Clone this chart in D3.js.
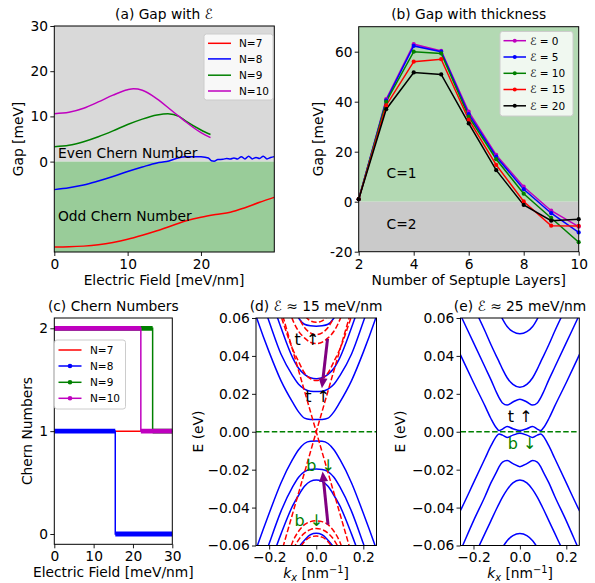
<!DOCTYPE html>
<html><head><meta charset="utf-8">
<script src="https://cdn.jsdelivr.net/npm/d3@7"></script>
<style>body{margin:0;background:#fff} svg text{font-family:"DejaVu Sans",sans-serif}</style>
</head><body><svg id="c" width="595" height="583"></svg>
<script>
// ---------------- DATA ----------------
// (a) Gap vs electric field
const aN7x = [0,2,4,6,8,10,12,14,16,18,20,22,24,26,28,30];
const aN7y = [-18.9,-18.85,-18.7,-18.4,-17.9,-17.2,-16.3,-15.3,-14.2,-13.1,-12.3,-11.7,-11.2,-10.2,-9.0,-7.9];
const aN8x = [0,2,4,6,8,10,12,14,15.3,17,18,19,20,21,21.4,21.8,22.3,23,23.5,24,24.5,25,25.5,26,26.5,27,27.5,28,28.5,29,29.5,30];
const aN8y = [-6.2,-5.8,-5.2,-4.3,-3.3,-2.2,-1.2,-0.3,0,0.85,1.05,1.1,1.05,0.8,0.2,0.1,0.45,0.5,0.7,0.6,0.8,0.6,1.1,0.6,1.2,0.6,0.9,0.7,1.2,0.6,0.9,1.1];
const aN9x = [0,2,4,6,8,10,12,14,15.5,17,18,20,21.3];
const aN9y = [3.3,3.6,4.4,5.5,6.8,8.2,9.4,10.3,10.6,10.0,8.9,7.0,6.0];
const aN10x = [0,2,4,6,8,10,10.8,12,14,16,17,18,20,21.3];
const aN10y = [10.6,10.9,11.8,13.2,14.7,15.9,16.1,15.8,13.9,11.3,10.0,8.7,6.4,5.3];
const aXTicks = [0,10,20];
const aYTicks = [0,10,20,30];
const aLegend = ["N=7","N=8","N=9","N=10"];

// (b) Gap vs thickness
const layers = [2,3,4,5,6,7,8,9,10];
const gapF0  = [1,41,63,60.3,36,18.7,6,-3.6,-10];
const gapF5  = [1,40.5,62.3,60,35,18,5,-4.6,-12.3];
const gapF10 = [1,40,60,59.3,34,17,3.2,-6.5,-16.2];
const gapF15 = [1,38.5,56,57,32.8,14.7,0.1,-9.6,-9.7];
const gapF20 = [1,37,51.7,50.9,31.3,12.6,-1.3,-7.6,-7];
const bXTicks = [2,4,6,8,10];
const bYTicks = [-20,0,20,40,60];
const bLegend = ["ℰ = 0","ℰ = 5","ℰ = 10","ℰ = 15","ℰ = 20"];

// (c) Chern numbers (field, C)
const chernN7  = [[0,1],[30,1]];
const chernN8  = [[0,1],[15.5,1],[15.5,0],[30,0]];
const chernN9  = [[0,2],[25,2],[25,1],[30,1]];
const chernN10 = [[0,2],[22,2],[22,1],[30,1]];
const cXTicks = [0,10,20,30];
const cYTicks = [0,1,2];

// (d) bands at ~15 meV/nm  (k grid shared)
const kD = [-0.3,-0.25,-0.2,-0.15,-0.1,-0.075,-0.05,-0.025,0,0.025,0.05,0.075,0.1,0.15,0.2,0.25,0.3];
const dCondA = [0.078,0.059,0.042,0.027,0.0155,0.0105,0.0072,0.0065,0.0064,0.0065,0.0072,0.0105,0.0155,0.027,0.042,0.059,0.078];
const dCondB = [0.094,0.076,0.058,0.041,0.0295,0.025,0.0225,0.0214,0.0212,0.0214,0.0225,0.025,0.0295,0.041,0.058,0.076,0.094];
const dCondC = [0.11,0.092,0.073,0.055,0.039,0.0335,0.0303,0.0285,0.028,0.0285,0.0303,0.0335,0.039,0.055,0.073,0.092,0.11];
const dCondD = [0.125,0.11,0.095,0.08,0.066,0.06,0.0567,0.0559,0.0557,0.0559,0.0567,0.06,0.066,0.08,0.095,0.11,0.125];
const dValA = [-0.078,-0.06,-0.043,-0.027,-0.0145,-0.0095,-0.0062,-0.005,-0.0049,-0.005,-0.0062,-0.0095,-0.0145,-0.027,-0.043,-0.06,-0.078];
const dValB = [-0.095,-0.077,-0.059,-0.042,-0.029,-0.024,-0.021,-0.0199,-0.0197,-0.0199,-0.021,-0.024,-0.029,-0.042,-0.059,-0.077,-0.095];
const dValC = [-0.107,-0.089,-0.071,-0.054,-0.039,-0.0335,-0.0288,-0.0262,-0.0255,-0.0262,-0.0288,-0.0335,-0.039,-0.054,-0.071,-0.089,-0.107];
const dValD = [-0.125,-0.11,-0.095,-0.08,-0.0665,-0.061,-0.0572,-0.0543,-0.0536,-0.0543,-0.0572,-0.061,-0.0665,-0.08,-0.095,-0.11,-0.125];
const dRedC1 = [0.115,0.097,0.079,0.061,0.0435,0.037,0.031,0.028,0.027,0.028,0.031,0.037,0.0435,0.061,0.079,0.097,0.115];
const dRedC2 = [0.14,0.12,0.1,0.08,0.059,0.053,0.0495,0.0472,0.0465,0.0472,0.0495,0.053,0.059,0.08,0.1,0.12,0.14];
const dRedC3 = [0.15,0.13,0.11,0.09,0.068,0.0605,0.055,0.0522,0.0512,0.0522,0.055,0.0605,0.068,0.09,0.11,0.13,0.15];
const dRedC4 = [0.16,0.14,0.12,0.1,0.075,0.067,0.0615,0.0585,0.0577,0.0585,0.0615,0.067,0.075,0.1,0.12,0.14,0.16];
const dRedV2 = [-0.14,-0.12,-0.1,-0.08,-0.058,-0.0525,-0.049,-0.0474,-0.047,-0.0474,-0.049,-0.0525,-0.058,-0.08,-0.1,-0.12,-0.14];
const dRedV3 = [-0.15,-0.13,-0.11,-0.09,-0.063,-0.057,-0.0535,-0.0516,-0.051,-0.0516,-0.0535,-0.057,-0.063,-0.09,-0.11,-0.13,-0.15];
const dRedV4 = [-0.16,-0.14,-0.12,-0.1,-0.069,-0.0625,-0.058,-0.0556,-0.055,-0.0556,-0.058,-0.0625,-0.069,-0.1,-0.12,-0.14,-0.16];
const kCross = [-0.3,0.3];
const dCrossUp = [-0.129,0.129];
const dCrossDown = [0.129,-0.129];
const dArrows = [{from:[0.048,0.049], to:[0.024,0.023]}, {from:[0.05,-0.049], to:[0.027,-0.021]}];
const dLabels = [{t:"t ↑",k:-0.092,E:0.046,c:"#000"},{t:"t ↑",k:-0.047,E:0.0157,c:"#000"},{t:"b ↓",k:-0.042,E:-0.0205,c:"#008000"},{t:"b ↓",k:-0.092,E:-0.0495,c:"#008000"}];

// (e) bands at ~25 meV/nm
const kE = [-0.3,-0.25,-0.2,-0.15,-0.125,-0.1,-0.09,-0.075,-0.055,-0.03,0,0.03,0.055,0.075,0.09,0.1,0.125,0.15,0.2,0.25,0.3];
const eCond1 = [0.052,0.039,0.026,0.0135,0.007,0.0018,0.0006,0.0014,0.0028,0.0016,0.0006,0.0016,0.0028,0.0014,0.0006,0.0018,0.007,0.0135,0.026,0.039,0.052];
const eCond2 = [0.073,0.06,0.047,0.034,0.0275,0.0205,0.018,0.0152,0.0141,0.0157,0.0172,0.0157,0.0141,0.0152,0.018,0.0205,0.0275,0.034,0.047,0.06,0.073];
const eCond3 = [0.092,0.079,0.066,0.053,0.046,0.0395,0.037,0.033,0.0285,0.025,0.0235,0.025,0.0285,0.033,0.037,0.0395,0.046,0.053,0.066,0.079,0.092];
const eCond4 = [0.14,0.12,0.1,0.078,0.0715,0.065,0.063,0.0595,0.0555,0.0528,0.0517,0.0528,0.0555,0.0595,0.063,0.065,0.0715,0.078,0.1,0.12,0.14];
const eVal1 = [-0.052,-0.04,-0.027,-0.014,-0.0075,-0.0022,-0.0012,-0.0018,-0.003,-0.0018,-0.0008,-0.0018,-0.003,-0.0018,-0.0012,-0.0022,-0.0075,-0.014,-0.027,-0.04,-0.052];
const eVal2 = [-0.075,-0.061,-0.047,-0.034,-0.027,-0.021,-0.0185,-0.016,-0.0152,-0.0168,-0.0184,-0.0168,-0.0152,-0.016,-0.0185,-0.021,-0.027,-0.034,-0.047,-0.061,-0.075];
const eVal3 = [-0.092,-0.079,-0.0665,-0.0535,-0.047,-0.0405,-0.038,-0.0345,-0.0305,-0.027,-0.0255,-0.027,-0.0305,-0.0345,-0.038,-0.0405,-0.047,-0.0535,-0.0665,-0.079,-0.092];
const eVal4 = [-0.14,-0.12,-0.1,-0.08,-0.072,-0.066,-0.064,-0.061,-0.0575,-0.0548,-0.0537,-0.0548,-0.0575,-0.061,-0.064,-0.066,-0.072,-0.08,-0.1,-0.12,-0.14];
const eLabels = [{t:"t ↑",k:-0.052,E:0.0053,c:"#000"},{t:"b ↓",k:-0.052,E:-0.0092,c:"#008000"}];
const bandYTicks = [-0.06,-0.04,-0.02,0,0.02,0.04,0.06];
const bandXTicks = [-0.2,0,0.2];

// ---------------- DRAW ----------------
const svg = d3.select("#c");
const FS = 13.8, LFS = 10.5, BFS = 16;
const C = {r:"#ff0000", b:"#0000ff", g:"#008000", m:"#bf00bf", k:"#000000", p:"#800080"};
const zip = (xs, ys) => xs.map((v,i)=>[v, ys[i]]);
let clipId = 0;

function makePanel(xs, ys) {
  const g = svg.append("g");
  const id = "clip" + (clipId++);
  svg.append("defs").append("clipPath").attr("id", id).append("rect")
    .attr("x", xs.range()[0]).attr("y", ys.range()[1])
    .attr("width", xs.range()[1]-xs.range()[0]).attr("height", ys.range()[0]-ys.range()[1]);
  const plot = g.append("g").attr("clip-path", `url(#${id})`);
  return {g, plot};
}
function drawAxes(g, xs, ys, xt, yt, xf, yf) {
  const ax = g.append("g").attr("transform", `translate(0,${ys.range()[0]})`)
    .call(d3.axisBottom(xs).tickValues(xt).tickSize(4).tickPadding(3.2).tickFormat(xf));
  const ay = g.append("g").attr("transform", `translate(${xs.range()[0]},0)`)
    .call(d3.axisLeft(ys).tickValues(yt).tickSize(4).tickPadding(2.2).tickFormat(yf));
  [ax, ay].forEach(a => {
    a.select(".domain").remove();
    a.selectAll("text").attr("font-size", FS).attr("font-family", "DejaVu Sans").attr("fill", "#000");
    a.selectAll("line").attr("stroke", "#000").attr("stroke-width", 0.9);
  });
  g.append("rect").attr("x", xs.range()[0]).attr("y", ys.range()[1])
    .attr("width", xs.range()[1]-xs.range()[0]).attr("height", ys.range()[0]-ys.range()[1])
    .attr("fill", "none").attr("stroke", "#000").attr("stroke-width", 1);
}
function txt(g, x, y, s, opts = {}) {
  const t = g.append("text").attr("x", x).attr("y", y).text(s)
    .attr("font-size", opts.fs || FS).attr("fill", opts.c || "#000")
    .attr("text-anchor", opts.anchor || "start");
  if (opts.rot) t.attr("transform", `rotate(-90,${x},${y})`);
  return t;
}
function legend(g, box, rows, items, lx0, lx1, tx) {
  g.append("rect").attr("x", box[0]).attr("y", box[1]).attr("width", box[2]-box[0]).attr("height", box[3]-box[1])
    .attr("rx", 2.5).attr("fill", "#fff").attr("fill-opacity", 0.8).attr("stroke", "#cccccc").attr("stroke-width", 1);
  items.forEach((it, i) => {
    const yy = rows[i];
    g.append("line").attr("x1", lx0).attr("x2", lx1).attr("y1", yy).attr("y2", yy)
      .attr("stroke", it.color).attr("stroke-width", 1.5);
    if (it.marker) g.append("circle").attr("cx", (lx0+lx1)/2).attr("cy", yy).attr("r", it.marker).attr("fill", it.color);
    txt(g, tx, yy + 3.8, it.label, {fs: LFS});
  });
}
const lineGen = (xs, ys, curve) => d3.line().x(d => xs(d[0])).y(d => ys(d[1])).curve(curve || d3.curveLinear);

// ===== (a) =====
{
  const x = d3.scaleLinear([0,30],[54.3,274.3]);
  const y = d3.scaleLinear([-20,30],[252,26]);
  const {g, plot} = makePanel(x, y);
  plot.append("rect").attr("x", x(0)).attr("y", y(30)).attr("width", x(30)-x(0)).attr("height", y(0)-y(30)).attr("fill", "#d9d9d9");
  plot.append("rect").attr("x", x(0)).attr("y", y(0)).attr("width", x(30)-x(0)).attr("height", y(-20)-y(0)).attr("fill", "#99cc99");
  const series = [[aN7x,aN7y,C.r],[aN8x,aN8y,C.b],[aN9x,aN9y,C.g],[aN10x,aN10y,C.m]];
  series.forEach(([xs, ys, col]) => {
    plot.append("path").attr("d", lineGen(x, y, d3.curveMonotoneX)(zip(xs, ys)))
      .attr("fill", "none").attr("stroke", col).attr("stroke-width", 1.5);
  });
  txt(g, 58, 158, "Even Chern Number");
  txt(g, 58, 221, "Odd Chern Number");
  drawAxes(g, x, y, aXTicks, aYTicks, d3.format("d"), d3.format("d"));
  txt(g, 164, 18.5, "(a) Gap with ℰ", {anchor: "middle"});
  txt(g, 164, 285, "Electric Field [meV/nm]", {anchor: "middle"});
  txt(g, 23, 139, "Gap [meV]", {anchor: "middle", rot: true});
  legend(g, [204,34,273,100], [43.3,58.9,75.2,91],
    aLegend.map((l,i)=>({label:l, color:[C.r,C.b,C.g,C.m][i]})), 208, 231, 239);
}

// ===== (b) =====
{
  const x = d3.scaleLinear([2,10],[358.7,578.7]);
  const y = d3.scaleLinear([-20,70],[251.7,26.7]);
  const {g, plot} = makePanel(x, y);
  plot.append("rect").attr("x", x(2)).attr("y", y(70)).attr("width", x(10)-x(2)).attr("height", y(0)-y(70)).attr("fill", "#b3d9b3");
  plot.append("rect").attr("x", x(2)).attr("y", y(0)).attr("width", x(10)-x(2)).attr("height", y(-20)-y(0)).attr("fill", "#cacaca");
  const series = [[gapF0,C.m],[gapF5,C.b],[gapF10,C.g],[gapF15,C.r],[gapF20,C.k]];
  series.forEach(([vals, col]) => {
    const pts = zip(layers, vals);
    plot.append("path").attr("d", lineGen(x, y)(pts)).attr("fill", "none").attr("stroke", col).attr("stroke-width", 1.5);
    g.selectAll(null).data(pts).enter().append("circle")
      .attr("cx", d => x(d[0])).attr("cy", d => y(d[1])).attr("r", 2.1).attr("fill", col);
  });
  txt(g, 386.5, 178, "C=1");
  txt(g, 386.5, 229, "C=2");
  drawAxes(g, x, y, bXTicks, bYTicks, d3.format("d"), d => d < 0 ? "-" + Math.abs(d) : String(d));
  txt(g, 468.7, 18.5, "(b) Gap with thickness", {anchor: "middle"});
  txt(g, 468.7, 285, "Number of Septuple Layers]", {anchor: "middle"});
  txt(g, 323, 139, "Gap [meV]", {anchor: "middle", rot: true});
  legend(g, [500,31.5,573,116], [40.7,57,73.3,89.5,105.8],
    bLegend.map((l,i)=>({label:l, color:[C.m,C.b,C.g,C.r,C.k][i], marker:2})), 503.5, 526, 530);
}

// ===== (c) =====
{
  const x = d3.scaleLinear([0,30],[54.3,172.3]);
  const y = d3.scaleLinear([-0.1,2.1],[544.3,318]);
  const {g, plot} = makePanel(x, y);
  const series = [[chernN7,C.r,false],[chernN8,C.b,true],[chernN9,C.g,true],[chernN10,C.m,true]];
  series.forEach(([pts, col, thick]) => {
    plot.append("path").attr("d", lineGen(x, y)(pts)).attr("fill", "none").attr("stroke", col).attr("stroke-width", 1.5);
    if (thick) {
      for (let i = 0; i < pts.length-1; i++) {
        if (pts[i][1] === pts[i+1][1]) {
          plot.append("line").attr("x1", x(pts[i][0])).attr("x2", x(pts[i+1][0]))
            .attr("y1", y(pts[i][1])).attr("y2", y(pts[i+1][1]))
            .attr("stroke", col).attr("stroke-width", 4.8);
        }
      }
    }
  });
  drawAxes(g, x, y, cXTicks, cYTicks, d3.format("d"), d3.format("d"));
  txt(g, 113.3, 311, "(c) Chern Numbers", {anchor: "middle"});
  txt(g, 113.3, 577, "Electric Field [meV/nm]", {anchor: "middle"});
  txt(g, 32, 431, "Chern Numbers", {anchor: "middle", rot: true});
  legend(g, [54.5,340,125.5,409], [350,366,382.3,398.3],
    aLegend.map((l,i)=>({label:l, color:[C.r,C.b,C.g,C.m][i], marker: i===0?0:2.3})), 58.5, 81.5, 90);
}

// ===== band panels =====
function kLabel(g, cx, y) {
  const t = g.append("text").attr("x", cx).attr("y", y).attr("font-size", FS).attr("text-anchor", "middle");
  t.append("tspan").attr("font-style", "italic").text("k");
  t.append("tspan").attr("font-style", "italic").attr("font-size", 9.8).attr("dy", 3).text("x");
  t.append("tspan").attr("dy", -3).text(" [nm");
  t.append("tspan").attr("font-size", 9.8).attr("dy", -5).text("−1");
  t.append("tspan").attr("dy", 5).text("]");
}
const bandFmtY = d => d3.format(".2f")(d).replace("-", "−");
const bandFmtX = d => d3.format(".1f")(d).replace("-", "−");

function bandPanel(x, y, blue, red) {
  const {g, plot} = makePanel(x, y);
  const lg = lineGen(x, y, d3.curveMonotoneX);
  plot.append("line").attr("x1", x.range()[0]).attr("x2", x.range()[1]).attr("y1", y(0)).attr("y2", y(0))
    .attr("stroke", C.g).attr("stroke-width", 1.5).attr("stroke-dasharray", "5.5,2.4");
  blue.forEach(([ks, es]) => plot.append("path").attr("d", lg(zip(ks, es))).attr("fill", "none").attr("stroke", C.b).attr("stroke-width", 1.5));
  red.forEach(([ks, es]) => plot.append("path").attr("d", lg(zip(ks, es))).attr("fill", "none").attr("stroke", C.r).attr("stroke-width", 1.5).attr("stroke-dasharray", "5.5,2.4"));
  return {g, plot};
}

// ===== (d) =====
{
  const x = d3.scaleLinear([-0.256,0.256],[256,376.5]);
  const y = d3.scaleLinear([-0.06,0.06],[545.5,318]);
  const blue = [dCondA,dCondB,dCondC,dCondD,dValA,dValB,dValC,dValD].map(e => [kD, e]);
  const red = [[kCross,dCrossUp],[kCross,dCrossDown]].concat([dRedC1,dRedC2,dRedC3,dRedC4,dRedV2,dRedV3,dRedV4].map(e => [kD, e]));
  const {g, plot} = bandPanel(x, y, blue, red);
  dArrows.forEach(a => {
    const x1 = x(a.from[0]), y1 = y(a.from[1]), x2 = x(a.to[0]), y2 = y(a.to[1]);
    const ang = Math.atan2(y2-y1, x2-x1), hl = 10, hw = 4.5;
    const bx = x2 - hl*Math.cos(ang), by = y2 - hl*Math.sin(ang);
    plot.append("line").attr("x1", x1).attr("y1", y1).attr("x2", bx).attr("y2", by).attr("stroke", C.p).attr("stroke-width", 3);
    plot.append("path").attr("d", `M${x2},${y2}L${bx - hw*Math.sin(ang)},${by + hw*Math.cos(ang)}L${bx + hw*Math.sin(ang)},${by - hw*Math.cos(ang)}Z`).attr("fill", C.p);
  });
  dLabels.forEach(l => txt(g, x(l.k), y(l.E), l.t, {fs: BFS, c: l.c}));
  drawAxes(g, x, y, bandXTicks, bandYTicks, bandFmtX, bandFmtY);
  txt(g, 316, 311, "(d) ℰ ≈ 15 meV/nm", {anchor: "middle"});
  kLabel(g, 316, 578);
  txt(g, 203, 431.5, "E (eV)", {anchor: "middle", rot: true});
}

// ===== (e) =====
{
  const x = d3.scaleLinear([-0.256,0.256],[460.5,579.3]);
  const y = d3.scaleLinear([-0.06,0.06],[545.5,318]);
  const blue = [eCond1,eCond2,eCond3,eCond4,eVal1,eVal2,eVal3,eVal4].map(e => [kE, e]);
  const {g} = bandPanel(x, y, blue, []);
  eLabels.forEach(l => txt(g, x(l.k), y(l.E), l.t, {fs: BFS, c: l.c}));
  drawAxes(g, x, y, bandXTicks, bandYTicks, bandFmtX, bandFmtY);
  txt(g, 520, 311, "(e) ℰ ≈ 25 meV/nm", {anchor: "middle"});
  kLabel(g, 520, 578);
  txt(g, 405, 431.5, "E (eV)", {anchor: "middle", rot: true});
}
</script></body></html>
